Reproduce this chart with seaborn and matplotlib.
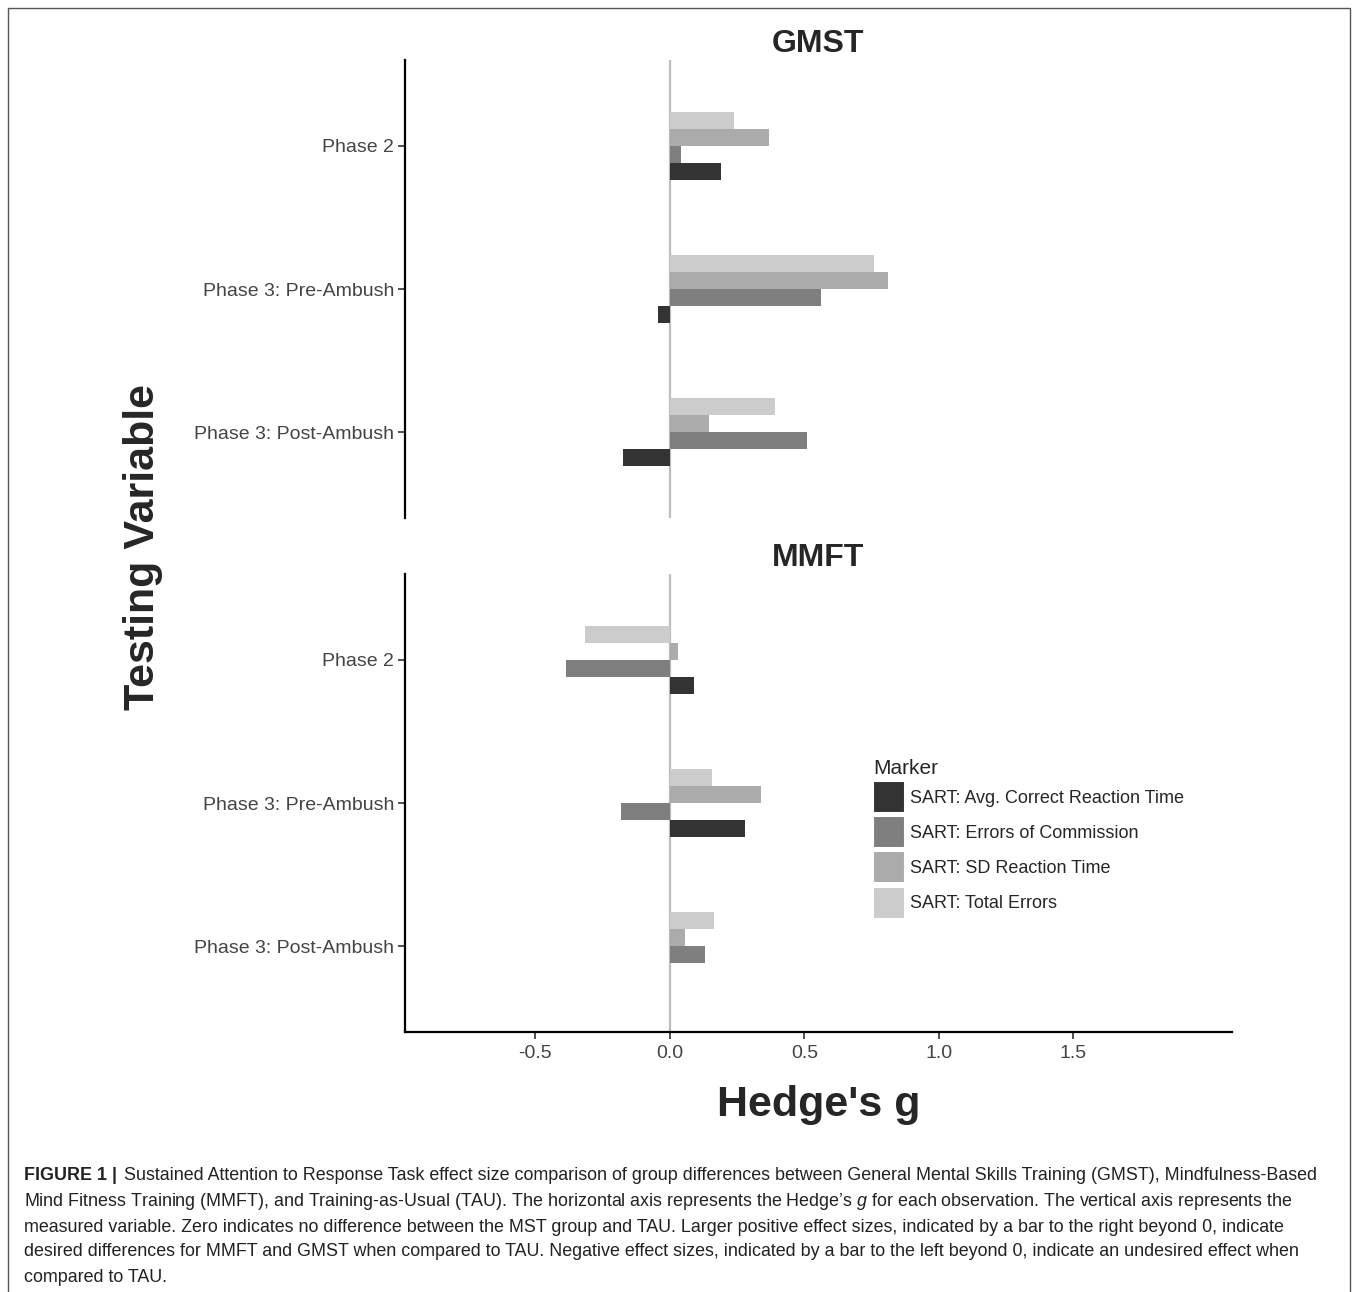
import matplotlib
matplotlib.use("Agg")
import matplotlib.pyplot as plt
import seaborn as sns
import pandas as pd
from matplotlib.patches import Patch, Rectangle

phases = ["Phase 2", "Phase 3: Pre-Ambush", "Phase 3: Post-Ambush"]
markers = ["SART: Avg. Correct Reaction Time", "SART: Errors of Commission",
           "SART: SD Reaction Time", "SART: Total Errors"]
colors = ["#333333", "#7f7f7f", "#ababab", "#cccccc"]

# hedge's g per marker, one value per phase
gmst_avg = [0.19, -0.045, -0.175]
gmst_eoc = [0.04, 0.56, 0.51]
gmst_sd = [0.37, 0.81, 0.145]
gmst_total = [0.24, 0.76, 0.39]

mmft_avg = [0.09, 0.28, 0.0]
mmft_eoc = [-0.385, -0.18, 0.13]
mmft_sd = [0.03, 0.34, 0.055]
mmft_total = [-0.315, 0.155, 0.165]


def make_df(avg, eoc, sd, total):
    rows = []
    for m, vals in zip(markers, [avg, eoc, sd, total]):
        for p, v in zip(phases, vals):
            rows.append({"Phase": p, "Marker": m, "g": v})
    return pd.DataFrame(rows)


df_gmst = make_df(gmst_avg, gmst_eoc, gmst_sd, gmst_total)
df_mmft = make_df(mmft_avg, mmft_eoc, mmft_sd, mmft_total)

sns.set_style("white")
plt.rcParams["font.family"] = ["Liberation Sans", "DejaVu Sans"]
plt.rcParams["mathtext.fontset"] = "custom"
plt.rcParams["mathtext.it"] = "Liberation Sans:italic"
plt.rcParams["mathtext.rm"] = "Liberation Sans"

W, H = 1358, 1292
fig = plt.figure(figsize=(W / 100, H / 100), dpi=100)

x0, x1 = 405, 1232
ax_top = fig.add_axes([x0 / W, 1 - 518 / H, (x1 - x0) / W, 458 / H])
ax_bot = fig.add_axes([x0 / W, 1 - 1032 / H, (x1 - x0) / W, 458 / H])

pal = dict(zip(markers, colors))
plot_order = markers[::-1]  # first hue level is drawn on top

for ax, df, title in [(ax_top, df_gmst, "GMST"), (ax_bot, df_mmft, "MMFT")]:
    ax.axvline(0, color="#bdbdbd", lw=1.6, zorder=0)
    sns.barplot(data=df, x="g", y="Phase", hue="Marker", hue_order=plot_order,
                order=phases, palette=pal, orient="h", width=0.475,
                linewidth=0, legend=False, ax=ax, zorder=2)
    ax.set_xlim(-0.985, 2.09)
    ax.set_ylim(2.6, -0.6)
    ax.set_xlabel("")
    ax.set_ylabel("")
    ax.set_title(title, fontsize=23, fontweight="bold", pad=6)
    for s in ["top", "right"]:
        ax.spines[s].set_visible(False)
    ax.spines["left"].set_color("black")
    ax.spines["left"].set_linewidth(1.6)
    ax.tick_params(axis="y", length=5, width=1.2, color="#333333",
                   labelsize=14, labelcolor="#444444", pad=3, left=True)
    ax.set_xticks([-0.5, 0.0, 0.5, 1.0, 1.5])

ax_top.spines["bottom"].set_visible(False)
ax_top.tick_params(axis="x", bottom=False, labelbottom=False)
ax_bot.spines["bottom"].set_color("black")
ax_bot.spines["bottom"].set_linewidth(1.6)
ax_bot.set_xticklabels(["-0.5", "0.0", "0.5", "1.0", "1.5"])
ax_bot.tick_params(axis="x", length=5, width=1.2, color="#333333",
                   labelsize=14, labelcolor="#444444", pad=4, bottom=True)

handles = [Patch(facecolor=c, edgecolor="white", linewidth=1.5) for c in colors]
leg = ax_bot.legend(handles, markers, title="Marker", loc="upper left",
                    bbox_to_anchor=(866 / W, 1 - 752 / H),
                    bbox_transform=fig.transFigure, frameon=False,
                    fontsize=13, title_fontsize=15, handlelength=1.75,
                    handleheight=2.35, labelspacing=0.17, handletextpad=0.3,
                    borderaxespad=0)
leg._legend_box.align = "left"

fig.text(143 / W, 1 - 547 / H, "Testing Variable", rotation=90, ha="center",
         va="center", fontsize=31, fontweight="bold")
fig.text(819 / W, 1 - 1105 / H, "Hedge's g", ha="center", va="center",
         fontsize=31, fontweight="bold")

# caption
cap_lines = [
    "Sustained Attention to Response Task effect size comparison of group differences between General Mental Skills Training (GMST), Mindfulness-Based",
    "Mind Fitness Training (MMFT), and Training-as-Usual (TAU). The horizontal axis represents the Hedge\u2019s $g$ for each observation. The vertical axis represents the",
    "measured variable. Zero indicates no difference between the MST group and TAU. Larger positive effect sizes, indicated by a bar to the right beyond 0, indicate",
    "desired differences for MMFT and GMST when compared to TAU. Negative effect sizes, indicated by a bar to the left beyond 0, indicate an undesired effect when",
    "compared to TAU.",
]
cap_y = [1176, 1201, 1227, 1252, 1277]
fs_cap = 12.85
fig.text(24 / W, 1 - cap_y[0] / H, "FIGURE 1 |", fontsize=fs_cap,
         fontweight="bold", va="center", color="#222222")
fig.text(124 / W, 1 - cap_y[0] / H, cap_lines[0], fontsize=fs_cap, va="center",
         color="#222222")
for line, y in zip(cap_lines[1:], cap_y[1:]):
    fig.text(24 / W, 1 - y / H, line, fontsize=fs_cap, va="center",
             color="#222222")

fig.patches.append(Rectangle((8 / W, -0.01), (1350 - 8) / W, 1 - 8 / H + 0.01,
                             transform=fig.transFigure, fill=False,
                             edgecolor="#555555", linewidth=1.0))

fig.savefig("out.png", dpi=100)
